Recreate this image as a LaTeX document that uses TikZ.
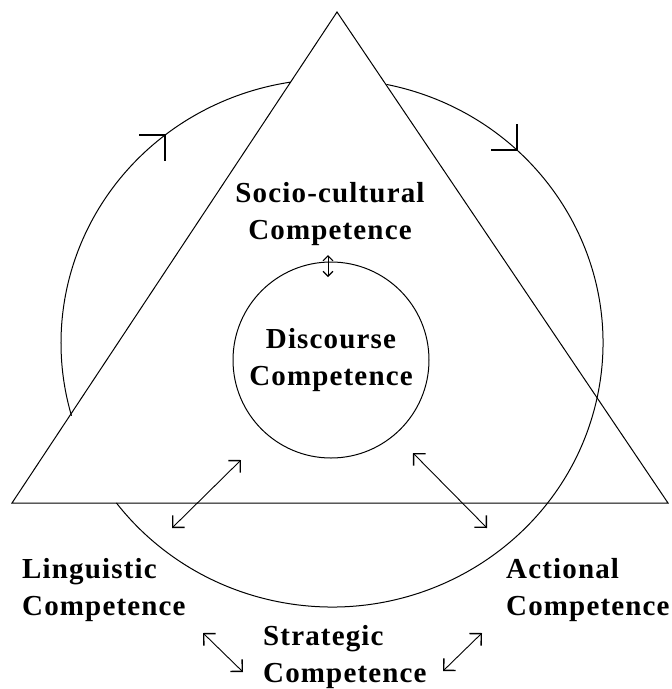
\documentclass[tikz,border=0pt]{standalone}
\usepackage{fontspec}
\newfontfamily\lblfont[LetterSpace=4]{Liberation Serif}
\usetikzlibrary{arrows.meta}
\begin{document}
\begin{tikzpicture}[x=1pt,y=-1pt,
  outline/.style={line width=1pt, line join=miter},
  cyc/.style={line width=1pt, x radius=271pt, y radius=264pt},
  lbl/.style={font=\lblfont\bfseries\fontsize{29}{37}\selectfont, inner sep=0pt},
  dbl/.style={line width=0.9pt, {Straight Barb[angle=90:12pt,line width=1.4pt]}-{Straight Barb[angle=90:12pt,line width=1.4pt]}},
  dblsmall/.style={line width=0.9pt, {Straight Barb[angle=90:7pt,line width=1.2pt]}-{Straight Barb[angle=90:7pt,line width=1.2pt]}},
  headarm/.style={line width=1.6pt, line cap=rect}
]
\useasboundingbox (0,0) rectangle (672,689);
% triangle
\coordinate (apex) at (337,12);
\coordinate (bl) at (12,503);
\coordinate (br) at (668,503);
\draw[outline] (apex) -- (bl) -- (br) -- cycle;
% outer cycle, drawn in two arcs (hidden behind the triangle at the top and lower left)
\coordinate (oc) at (332,343);
\draw[cyc] ([shift={(196:271pt and 264pt)}]oc) arc[start angle=196, end angle=98.8];
\draw[cyc] ([shift={(78.4:271pt and 264pt)}]oc) arc[start angle=78.4, end angle=-142.7];
% arrowheads on the outer cycle
\coordinate (cl) at (165,135);
\coordinate (cr) at (517,150);
\draw[headarm] (cl) -- ++(-25,0);
\draw[headarm] (cl) -- ++(0,25);
\draw[headarm] (cr) -- ++(-25,0);
\draw[headarm] (cr) -- ++(0,-25);
% inner circle
\node[draw, circle, line width=1pt, minimum size=196pt, inner sep=0pt, lbl, align=center] (disc) at (331,360) {Discourse\\Competence};
% labels
\node[lbl, align=center] (socio) at (330,214) {Socio-cultural\\Competence};
\node[lbl, align=left, anchor=west] (ling) at (22,590) {Linguistic\\Competence};
\node[lbl, align=left, anchor=west] (act) at (506,590) {Actional\\Competence};
\node[lbl, align=left, anchor=west] (strat) at (263,657) {Strategic\\Competence};
% arrows
\coordinate (t1) at (328,255);
\coordinate (t2) at (328,277);
\draw[dblsmall] (t1) -- (t2);
\coordinate (a1) at (241,460);
\coordinate (a2) at (172,528);
\draw[dbl] (a1) -- (a2);
\coordinate (b1) at (413,453);
\coordinate (b2) at (487,528);
\draw[dbl] (b1) -- (b2);
\coordinate (c1) at (203,633);
\coordinate (c2) at (243,672);
\draw[dbl] (c1) -- (c2);
\coordinate (d1) at (482,633);
\coordinate (d2) at (443,671);
\draw[dbl] (d1) -- (d2);
\end{tikzpicture}
\end{document}
